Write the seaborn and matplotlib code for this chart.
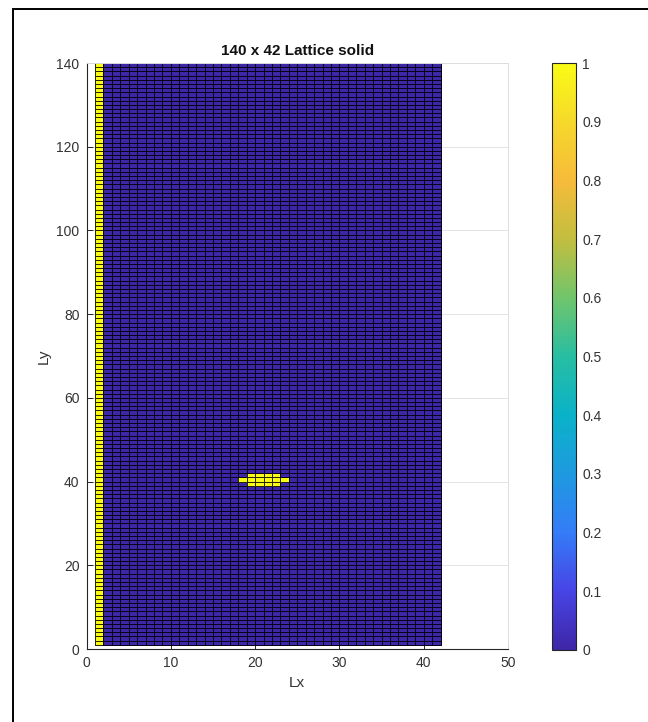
import numpy as np
import pandas as pd
import matplotlib
matplotlib.use("Agg")
import matplotlib.pyplot as plt
from matplotlib.colors import LinearSegmentedColormap
from matplotlib.patches import Rectangle
import seaborn as sns

# Lattice size (nodes) and plotted axis ranges
lattice_x_nodes = 42
lattice_y_nodes = 140
x_axis_max = 50
y_axis_max = 140

# Solid cells: the boundary column at x = 1 ...
solid_columns = [1]
# ... and a small defect cluster around y = 40 (row -> occupied cell columns)
defect_rows = [39, 40, 41]
defect_cols_row39 = [19, 20, 21, 22]
defect_cols_row40 = [18, 19, 20, 21, 22, 23]
defect_cols_row41 = [19, 20, 21, 22]

x_ticks = [0, 10, 20, 30, 40, 50]
y_ticks = [0, 20, 40, 60, 80, 100, 120, 140]
cbar_ticks = [0, 0.1, 0.2, 0.3, 0.4, 0.5, 0.6, 0.7, 0.8, 0.9, 1.0]

# Parula-like colormap
parula = LinearSegmentedColormap.from_list(
    "parula",
    [(0.00, "#3E26A8"), (0.10, "#4745E6"), (0.20, "#347CF8"),
     (0.30, "#1E9AE0"), (0.40, "#0AB2C9"), (0.50, "#27BEA2"),
     (0.60, "#70C56C"), (0.70, "#C2BE3F"), (0.80, "#F6BB3A"),
     (0.90, "#F6D82B"), (1.00, "#F9FB15")],
)

# Build the cell grid over the whole axis range; cells outside the lattice are NaN
grid = np.full((y_axis_max, x_axis_max), np.nan)
grid[1:lattice_y_nodes, 1:lattice_x_nodes] = 0.0
for c in solid_columns:
    grid[1:lattice_y_nodes, c] = 1.0
for r, cols in zip(defect_rows, [defect_cols_row39, defect_cols_row40, defect_cols_row41]):
    grid[r, cols] = 1.0
cells = pd.DataFrame(grid)

sns.set_style("white")
plt.rcParams["font.family"] = ["Liberation Sans", "DejaVu Sans"]
text_color = "#333333"

fig = plt.figure(figsize=(6.48, 7.22), dpi=100)
ax = fig.add_axes([0.1335, 0.1011, 0.6505, 0.8116])
cax = fig.add_axes([0.8519, 0.0998, 0.0363, 0.8129])

sns.heatmap(cells, cmap=parula, vmin=0, vmax=1, linewidths=0.4,
            linecolor="black", xticklabels=False, yticklabels=False,
            cbar=True, cbar_ax=cax, ax=ax)

# Cell edges only on lattice cells, not on the empty region
mesh = ax.collections[0]
mask = np.ma.getmaskarray(mesh.get_array()).ravel()
edge = np.zeros((mask.size, 4))
edge[:, 3] = np.where(mask, 0.0, 0.85)
mesh.set_edgecolor(edge)

ax.set_xlim(0, x_axis_max)
ax.set_ylim(0, y_axis_max)
ax.set_xticks(x_ticks)
ax.set_xticklabels([str(t) for t in x_ticks])
ax.set_yticks(y_ticks)
ax.set_yticklabels([str(t) for t in y_ticks], rotation=0)
ax.tick_params(axis="both", bottom=True, left=True, direction="in", length=4,
               width=0.7, colors="#262626", labelcolor=text_color,
               labelsize=10, pad=5)
ax.grid(True, color="#e3e3e3", linewidth=0.7)
ax.set_axisbelow(True)
for side in ["left", "bottom"]:
    ax.spines[side].set_visible(True)
    ax.spines[side].set_color("#262626")
    ax.spines[side].set_linewidth(0.8)
for side in ["top", "right"]:
    ax.spines[side].set_visible(True)
    ax.spines[side].set_color("#dddddd")
    ax.spines[side].set_linewidth(0.7)

ax.set_title("140 x 42 Lattice solid", fontsize=11, fontweight="bold",
             color="#111111", pad=6)
ax.set_xlabel("Lx", fontsize=11, color=text_color, labelpad=4)
ax.set_ylabel("Ly", fontsize=11, color=text_color, labelpad=4)

cbar = ax.collections[0].colorbar
cbar.set_ticks(cbar_ticks)
cbar.set_ticklabels([f"{t:g}" for t in cbar_ticks])
cbar.ax.tick_params(direction="in", length=4, width=0.7, colors="#262626",
                    labelcolor=text_color, labelsize=10, pad=5)
cbar.outline.set_linewidth(0.8)
cbar.outline.set_edgecolor("#262626")

# Frame around the figure
fig.patches.append(Rectangle((13 / 648, -0.05), 1.0, 1 - 9 / 722 + 0.05,
                             transform=fig.transFigure, fill=False,
                             linewidth=1.4, edgecolor="black"))

fig.savefig("out.png", dpi=100)
